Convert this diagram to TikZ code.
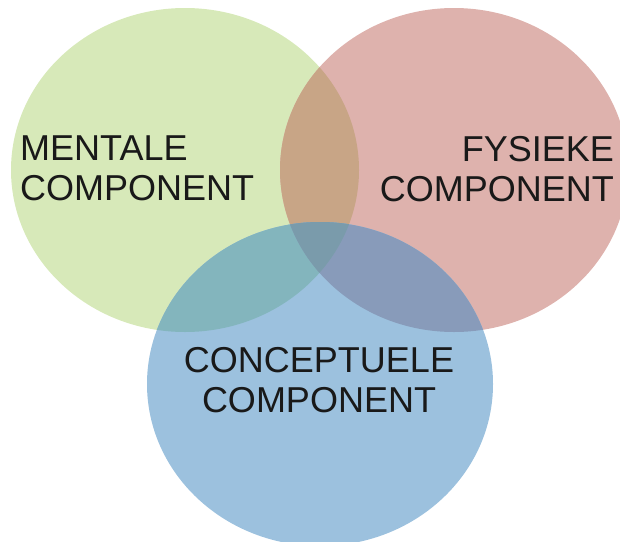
\documentclass[tikz,border=0pt]{standalone}
\usepackage{fontspec}
\setmainfont{Liberation Sans}
\definecolor{cG}{HTML}{D7E9B9}
\definecolor{cR}{HTML}{DEB2AD}
\definecolor{cB}{HTML}{9CC1DE}
\definecolor{cGR}{HTML}{C8A586}
\definecolor{cGB}{HTML}{83B5BD}
\definecolor{cRB}{HTML}{889BBA}
\definecolor{cGRB}{HTML}{7A9BAB}
\tikzset{
  lbl/.style={inner sep=0pt, font=\fontsize{36}{40}\selectfont, text=black!90},
}
\begin{document}
\begin{tikzpicture}[x=1pt,y=-1pt]
\useasboundingbox (0,0) rectangle (620,541);
\begin{scope}
\clip (0,8) rectangle (620,541);
\def\pG{(185,170) ellipse [x radius=174, y radius=162]}
\def\pR{(454,170) ellipse [x radius=174, y radius=162]}
\def\pB{(320,384) ellipse [x radius=173, y radius=162]}
\fill[cG] \pG;
\fill[cR] \pR;
\begin{scope}\clip \pG; \fill[cGR] \pR; \end{scope}
\fill[cB] \pB;
\begin{scope}\clip \pB; \fill[cGB] \pG; \end{scope}
\begin{scope}\clip \pB; \fill[cRB] \pR; \end{scope}
\begin{scope}\clip \pB; \clip \pR; \fill[cGRB] \pG; \end{scope}
\end{scope}
\node[lbl, align=left, anchor=base west] (m) at (20,200) {MENTALE\\COMPONENT};
\node[lbl, align=right, anchor=base east] (f) at (614,201) {FYSIEKE\\COMPONENT};
\node[lbl, align=center, anchor=base] (c) at (319,412) {CONCEPTUELE\\COMPONENT};
\end{tikzpicture}
\end{document}
